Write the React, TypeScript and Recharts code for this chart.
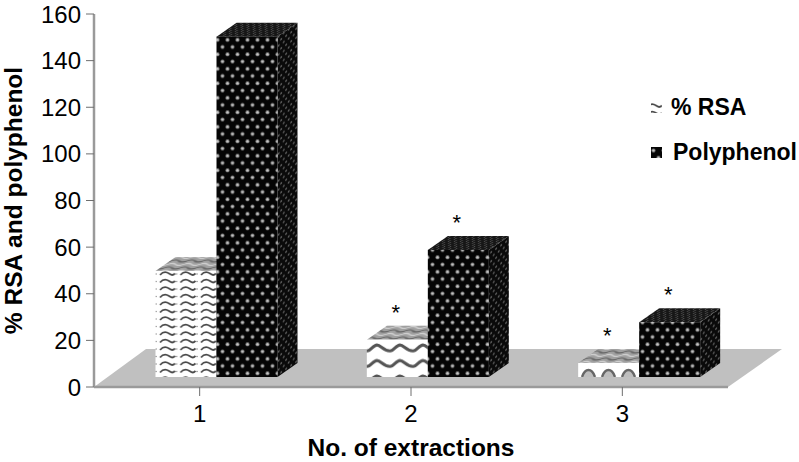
import { BarChart, Bar, XAxis, YAxis, Legend, LabelList, usePlotArea } from "recharts"

const categories = ["1", "2", "3"]
const rsaValues = [45.5, 16, 6]
const polyphenolValues = [146, 54.5, 23.5]
const rsaStars = ["", "*", "*"]
const polyphenolStars = ["", "*", "*"]
const yTicks = [0, 20, 40, 60, 80, 100, 120, 140, 160]

const data = categories.map((name, i) => ({
  name,
  rsa: rsaValues[i],
  polyphenol: polyphenolValues[i],
  rsaStar: rsaStars[i],
  polyphenolStar: polyphenolStars[i],
}))

const FONT = '"Liberation Sans", Arial, sans-serif'
const AXIS_GREY = "#9a9a9a"
const TICK_GREY = "#6e6e6e"
const DEPTH_X = 20
const DEPTH_Y = 14
const LIFT = 10
const SHIFT = 16.5

function Patterns() {
  return (
    <svg width="0" height="0" style={{ position: "absolute" }}>
      <defs>
        <pattern id="wave0" x="155" width="20.5" height="15" patternUnits="userSpaceOnUse">
          <rect width="20.5" height="15" fill="#fff" />
          <path d="M5 5 C8 1.5 11 1.5 14 3.5 S18 5.5 20 3.5" fill="none" stroke="#4a4a4a" strokeWidth="1.8" />
          <path d="M5 12.5 C8 9 11 9 14 11 S18 13 20 11" fill="none" stroke="#4a4a4a" strokeWidth="1.8" />
          <circle cx="1" cy="4" r="0.7" fill="#777" />
          <circle cx="1" cy="11.5" r="0.7" fill="#777" />
        </pattern>
        <pattern id="wave1" x="367" y="342" width="23" height="15.5" patternUnits="userSpaceOnUse">
          <rect width="23" height="15.5" fill="#fff" />
          <path d="M0 9 C4 9 6 3 10 3 S16 9 23 9" fill="none" stroke="#555" strokeWidth="3" />
        </pattern>
        <pattern id="wave2" x="579" y="363" width="20" height="14" patternUnits="userSpaceOnUse">
          <rect width="20" height="14" fill="#fff" />
          <path d="M3 14 C5 8 7 7 9.5 7 S14 8 16 14" fill="#bdbdbd" stroke="#666" strokeWidth="2.4" />
        </pattern>
        <pattern id="waveTop" width="16" height="7" patternUnits="userSpaceOnUse" patternTransform="skewX(-45)">
          <rect width="16" height="7" fill="#a0a0a0" />
          <path d="M0 2 Q4 0 8 2 T16 2" fill="none" stroke="#6a6a6a" strokeWidth="1.3" />
          <path d="M0 5.5 Q4 3.5 8 5.5 T16 5.5" fill="none" stroke="#d0d0d0" strokeWidth="1.2" />
        </pattern>
        <pattern id="dots" width="10" height="14.5" patternUnits="userSpaceOnUse">
          <rect width="10" height="14.5" fill="#050505" />
          <circle cx="2.5" cy="3.5" r="2.1" fill="#6d6d6d" />
          <circle cx="7.5" cy="10.8" r="2.1" fill="#6d6d6d" />
          <circle cx="2.5" cy="3.5" r="1.2" fill="#c4c4c4" />
          <circle cx="7.5" cy="10.8" r="1.2" fill="#c4c4c4" />
        </pattern>
        <pattern id="dotsSide" width="5" height="9" patternUnits="userSpaceOnUse" patternTransform="skewY(-35)">
          <rect width="5" height="9" fill="#0a0a0a" />
          <circle cx="1.2" cy="2.2" r="1.1" fill="#5a5a5a" />
          <circle cx="3.7" cy="6.7" r="1.1" fill="#5a5a5a" />
        </pattern>
        <pattern id="dotsTop" width="6" height="4" patternUnits="userSpaceOnUse" patternTransform="skewX(-55)">
          <rect width="6" height="4" fill="#161616" />
          <circle cx="1.5" cy="1" r="0.8" fill="#555" />
          <circle cx="4.5" cy="3" r="0.8" fill="#555" />
        </pattern>
      </defs>
    </svg>
  )
}

// grey floor of the 3d chart, sits behind the bars
function Floor() {
  const plot = usePlotArea()
  if (!plot) return null
  const left = plot.x
  const right = plot.x + plot.width
  const bottom = plot.y + plot.height
  return (
    <polygon
      points={`${left},${bottom} ${left + 52},${bottom - 38} ${right + 54},${bottom - 38} ${right},${bottom}`}
      fill="#c0c0c0"
    />
  )
}

function Block({ x, y, width, height, front, side, top }: any) {
  const l = x + SHIFT
  const r = l + width
  const t = y - LIFT
  const b = t + height
  return (
    <g>
      <polygon
        points={`${r},${t} ${r + DEPTH_X},${t - DEPTH_Y} ${r + DEPTH_X},${b - DEPTH_Y} ${r},${b}`}
        fill={`url(#${side})`}
      />
      <polygon
        points={`${l},${t} ${l + DEPTH_X},${t - DEPTH_Y} ${r + DEPTH_X},${t - DEPTH_Y} ${r},${t}`}
        fill={`url(#${top})`}
      />
      <rect x={l} y={t} width={width} height={height} fill={`url(#${front})`} />
    </g>
  )
}

function Star({ x, y, width, value }: any) {
  if (!value) return null
  return (
    <text x={x + SHIFT + width / 2 - 1.5} y={y - LIFT - 20} textAnchor="middle" fontFamily={FONT} fontSize={22} fill="#000">
      {value}
    </text>
  )
}

function LegendBox() {
  const rows = [
    { label: "% RSA", fill: "wave0", gap: 9 },
    { label: "Polyphenol", fill: "dots", gap: 11 },
  ]
  return (
    <div>
      {rows.map((row) => (
        <div
          key={row.label}
          style={{ display: "flex", alignItems: "center", height: 45, fontFamily: FONT, fontWeight: 700, fontSize: 23, color: "#000" }}
        >
          <svg width={11} height={11} style={{ marginRight: row.gap }}>
            <rect width={11} height={11} fill={`url(#${row.fill})`} />
          </svg>
          {row.label}
        </div>
      ))}
    </div>
  )
}

export default function App() {
  return (
    <div style={{ position: "absolute", left: 0, top: 0, width: 799, height: 462 }}>
      <Patterns />
      <BarChart
        width={799}
        height={462}
        data={data}
        margin={{ top: 14, right: 71, bottom: 0, left: 0 }}
        barCategoryGap={45}
        barGap={0}
      >
        <Floor />
        <XAxis
          dataKey="name"
          height={75}
          axisLine={{ stroke: AXIS_GREY, strokeWidth: 2.5 }}
          tickLine={{ stroke: TICK_GREY, strokeWidth: 1 }}
          tickSize={9}
          tickMargin={9}
          tick={{ fill: "#000", fontSize: 24, fontFamily: FONT }}
          label={{ value: "No. of extractions", position: "insideBottom", offset: 6, fill: "#000", fontSize: 24.5, fontWeight: 700, fontFamily: FONT }}
        />
        <YAxis
          width={94}
          domain={[0, 160]}
          ticks={yTicks}
          interval={0}
          axisLine={{ stroke: AXIS_GREY, strokeWidth: 2.5 }}
          tickLine={{ stroke: TICK_GREY, strokeWidth: 1 }}
          tickSize={8}
          tickMargin={5}
          tick={{ fill: "#000", fontSize: 24, fontFamily: FONT }}
          label={{ value: "% RSA and polyphenol", angle: -90, position: "insideLeft", offset: 13, fill: "#000", fontSize: 24.5, fontWeight: 700, fontFamily: FONT, style: { textAnchor: "middle" } }}
        />
        <Legend layout="vertical" align="center" verticalAlign="middle" content={<LegendBox />} wrapperStyle={{ left: 651, top: 85, width: 148 }} />
        <Bar
          dataKey="rsa"
          name="% RSA"
          isAnimationActive={false}
          shape={(p: any) => <Block {...p} front={`wave${p.index}`} side="dotsSide" top="waveTop" />}
        >
          <LabelList dataKey="rsaStar" content={<Star />} />
        </Bar>
        <Bar
          dataKey="polyphenol"
          name="Polyphenol"
          isAnimationActive={false}
          shape={(p: any) => <Block {...p} front="dots" side="dotsSide" top="dotsTop" />}
        >
          <LabelList dataKey="polyphenolStar" content={<Star />} />
        </Bar>
      </BarChart>
    </div>
  )
}
